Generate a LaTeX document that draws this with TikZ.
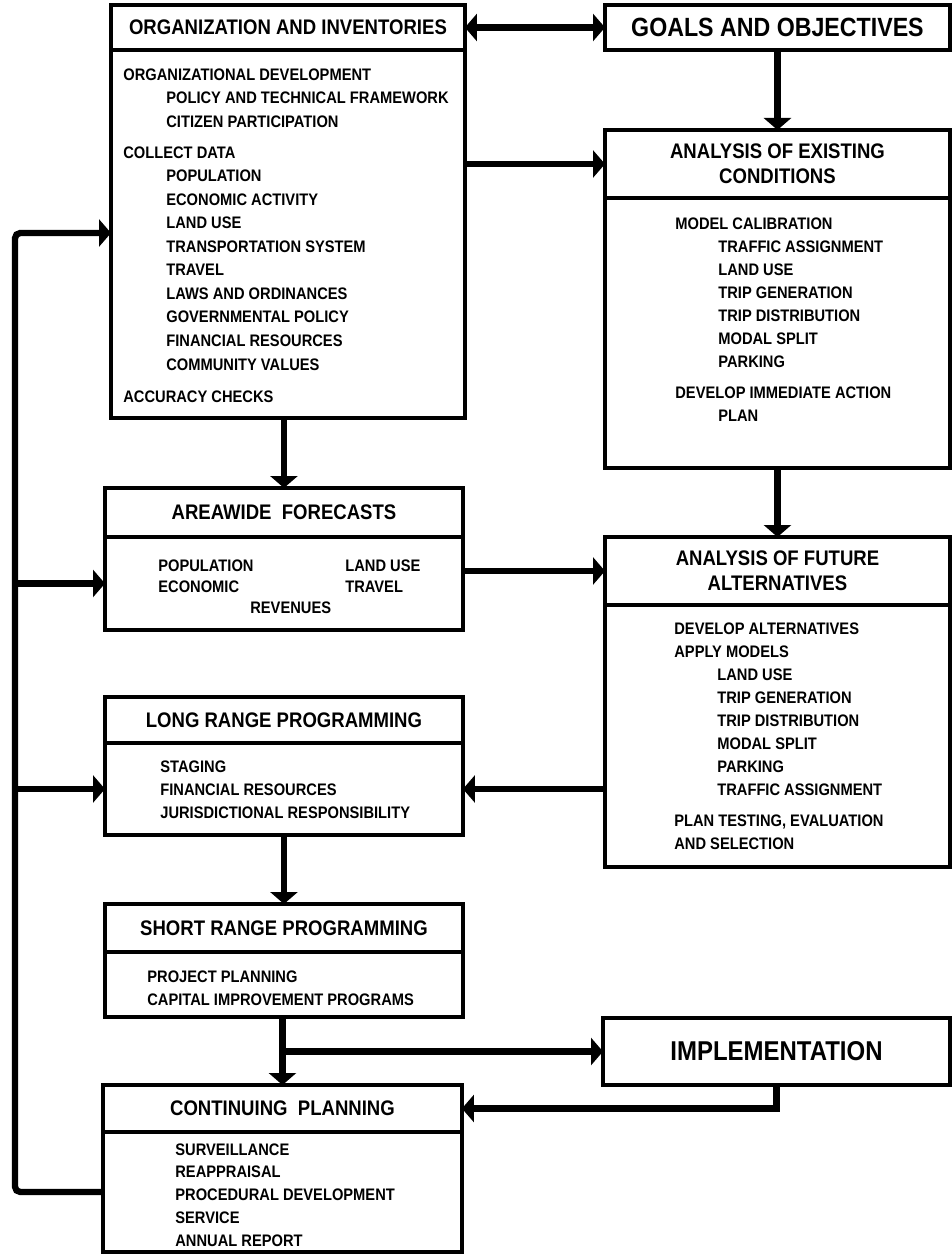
\documentclass[tikz,border=0pt]{standalone}
\usepackage{fontspec}
\setmainfont{Liberation Sans}[FakeStretch=0.88]
\usetikzlibrary{positioning,arrows.meta}

\newcommand{\indt}{\hspace*{0.86cm}}

\begin{document}
\begin{tikzpicture}[
    x=0.02cm, y=-0.02cm,
    box/.style={draw, line width=2.2pt, outer sep=0pt, inner sep=0pt, align=center},
    head/.style={box, font=\bfseries\fontsize{12}{14.2}\selectfont},
    bigbox/.style={box, font=\bfseries\fontsize{15.5}{18}\selectfont},
    body/.style={box},
    list/.style={anchor=north west, inner sep=0pt, align=left, font=\bfseries\fontsize{9.5}{13.4}\selectfont},
    link/.style={line width=3.6pt, -{Triangle[width=0.54cm,length=0.24cm]}}
]
    \useasboundingbox (0,0) rectangle (952,1256);

    % Left column
    \node[head, anchor=north west, minimum width=7.08cm, minimum height=0.9cm] (oiHead) at (111,5) {ORGANIZATION AND INVENTORIES};
    \node[body, below=0pt of oiHead, minimum width=7.08cm, minimum height=7.36cm] (oi) {};
    \node[list] (oiList) at (123,68) {ORGANIZATIONAL DEVELOPMENT\\
        \indt POLICY AND TECHNICAL FRAMEWORK\\
        \indt CITIZEN PARTICIPATION\\[0.15cm]
        COLLECT DATA\\
        \indt POPULATION\\
        \indt ECONOMIC ACTIVITY\\
        \indt LAND USE\\
        \indt TRANSPORTATION SYSTEM\\
        \indt TRAVEL\\
        \indt LAWS AND ORDINANCES\\
        \indt GOVERNMENTAL POLICY\\
        \indt FINANCIAL RESOURCES\\
        \indt COMMUNITY VALUES\\[0.18cm]
        ACCURACY CHECKS};

    \node[head, anchor=north west, minimum width=7.16cm, minimum height=0.98cm] (afHead) at (105,488) {AREAWIDE\ \ FORECASTS};
    \node[body, below=0pt of afHead, minimum width=7.16cm, minimum height=1.86cm] (af) {};
    \node[list, font=\bfseries\fontsize{9.5}{12.2}\selectfont] (afList) at (158,559) {\makebox[3.74cm][l]{POPULATION}LAND USE\\
        \makebox[3.74cm][l]{ECONOMIC}TRAVEL\\
        \hspace*{1.84cm}REVENUES};

    \node[head, anchor=north west, minimum width=7.16cm, minimum height=0.92cm] (lrpHead) at (105,697) {LONG RANGE PROGRAMMING};
    \node[body, below=0pt of lrpHead, minimum width=7.16cm, minimum height=1.84cm] (lrp) {};
    \node[list, font=\bfseries\fontsize{9.5}{13.1}\selectfont] (lrpList) at (160,760) {STAGING\\
        FINANCIAL RESOURCES\\
        JURISDICTIONAL RESPONSIBILITY};

    \node[head, anchor=north west, minimum width=7.16cm, minimum height=0.96cm] (srpHead) at (105,904) {SHORT RANGE PROGRAMMING};
    \node[body, below=0pt of srpHead, minimum width=7.16cm, minimum height=1.3cm] (srp) {};
    \node[list, font=\bfseries\fontsize{9.5}{13.1}\selectfont] (srpList) at (147,970) {PROJECT PLANNING\\
        CAPITAL IMPROVEMENT PROGRAMS};

    \node[head, anchor=north west, minimum width=7.18cm, minimum height=0.94cm] (cpHead) at (103,1085) {CONTINUING\ \ PLANNING};
    \node[body, below=0pt of cpHead, minimum width=7.18cm, minimum height=2.4cm] (cp) {};
    \node[list, font=\bfseries\fontsize{9.5}{13}\selectfont] (cpList) at (175,1143) {SURVEILLANCE\\
        REAPPRAISAL\\
        PROCEDURAL DEVELOPMENT\\
        SERVICE\\
        ANNUAL REPORT};

    % Right column
    \node[bigbox, anchor=north west, minimum width=6.9cm, minimum height=0.9cm, font=\bfseries\fontsize{15}{18}\selectfont] (goals) at (605,5) {GOALS AND OBJECTIVES};

    \node[head, anchor=north west, minimum width=6.9cm, minimum height=1.36cm] (aecHead) at (605,130) {ANALYSIS OF EXISTING\\CONDITIONS};
    \node[body, below=0pt of aecHead, minimum width=6.9cm, minimum height=5.4cm] (aec) {};
    \node[list, font=\bfseries\fontsize{9.5}{13.1}\selectfont] (aecList) at (675,217) {MODEL CALIBRATION\\
        \indt TRAFFIC ASSIGNMENT\\
        \indt LAND USE\\
        \indt TRIP GENERATION\\
        \indt TRIP DISTRIBUTION\\
        \indt MODAL SPLIT\\
        \indt PARKING\\[0.16cm]
        DEVELOP IMMEDIATE ACTION\\
        \indt PLAN};

    \node[head, anchor=north west, minimum width=6.9cm, minimum height=1.36cm] (afaHead) at (605,537) {ANALYSIS OF FUTURE\\ALTERNATIVES};
    \node[body, below=0pt of afaHead, minimum width=6.9cm, minimum height=5.24cm] (afa) {};
    \node[list, font=\bfseries\fontsize{9.5}{13.1}\selectfont] (afaList) at (674,622) {DEVELOP ALTERNATIVES\\
        APPLY MODELS\\
        \indt LAND USE\\
        \indt TRIP GENERATION\\
        \indt TRIP DISTRIBUTION\\
        \indt MODAL SPLIT\\
        \indt PARKING\\
        \indt TRAFFIC ASSIGNMENT\\[0.16cm]
        PLAN TESTING, EVALUATION\\
        AND SELECTION};

    \node[bigbox, anchor=north west, minimum width=6.94cm, minimum height=1.34cm] (impl) at (603,1018) {IMPLEMENTATION};

    % Connectors
    \draw[link, {Triangle[width=0.54cm,length=0.24cm]}-{Triangle[width=0.54cm,length=0.24cm]}] (oiHead.east) -- (goals.west);
    \draw[link] (goals.south) -- (aecHead.north);
    \draw[link] (aecHead.west -| oi.east) -- (aecHead.west);
    \draw[link] (afHead.north |- oi.south) -- (afHead.north);
    \draw[link] (aec.south) -- (afaHead.north);
    \draw[link] (afaHead.west -| af.east) -- (afaHead.west);
    \draw[link] (lrp.east -| afa.west) -- (lrp.east);
    \draw[link] (lrp.south) -- (srpHead.north);
    \draw[link] (cpHead.north |- srp.south) -- (cpHead.north);
    \coordinate (split) at (cpHead.north |- impl.west);
    \draw[link] (split) -- (impl.west);
    \draw[link] (impl.south) |- (cpHead.east);

    % Feedback rail
    \coordinate (railTop) at (15,233);
    \coordinate (railBot) at (railTop |- cp.west);
    \draw[link, rounded corners=3pt] (cp.west) -- (railBot) -- (railTop) -- (railTop -| oi.west);
    \draw[link] (railTop |- af.west) -- (af.west);
    \draw[link] (railTop |- lrp.west) -- (lrp.west);
\end{tikzpicture}
\end{document}
